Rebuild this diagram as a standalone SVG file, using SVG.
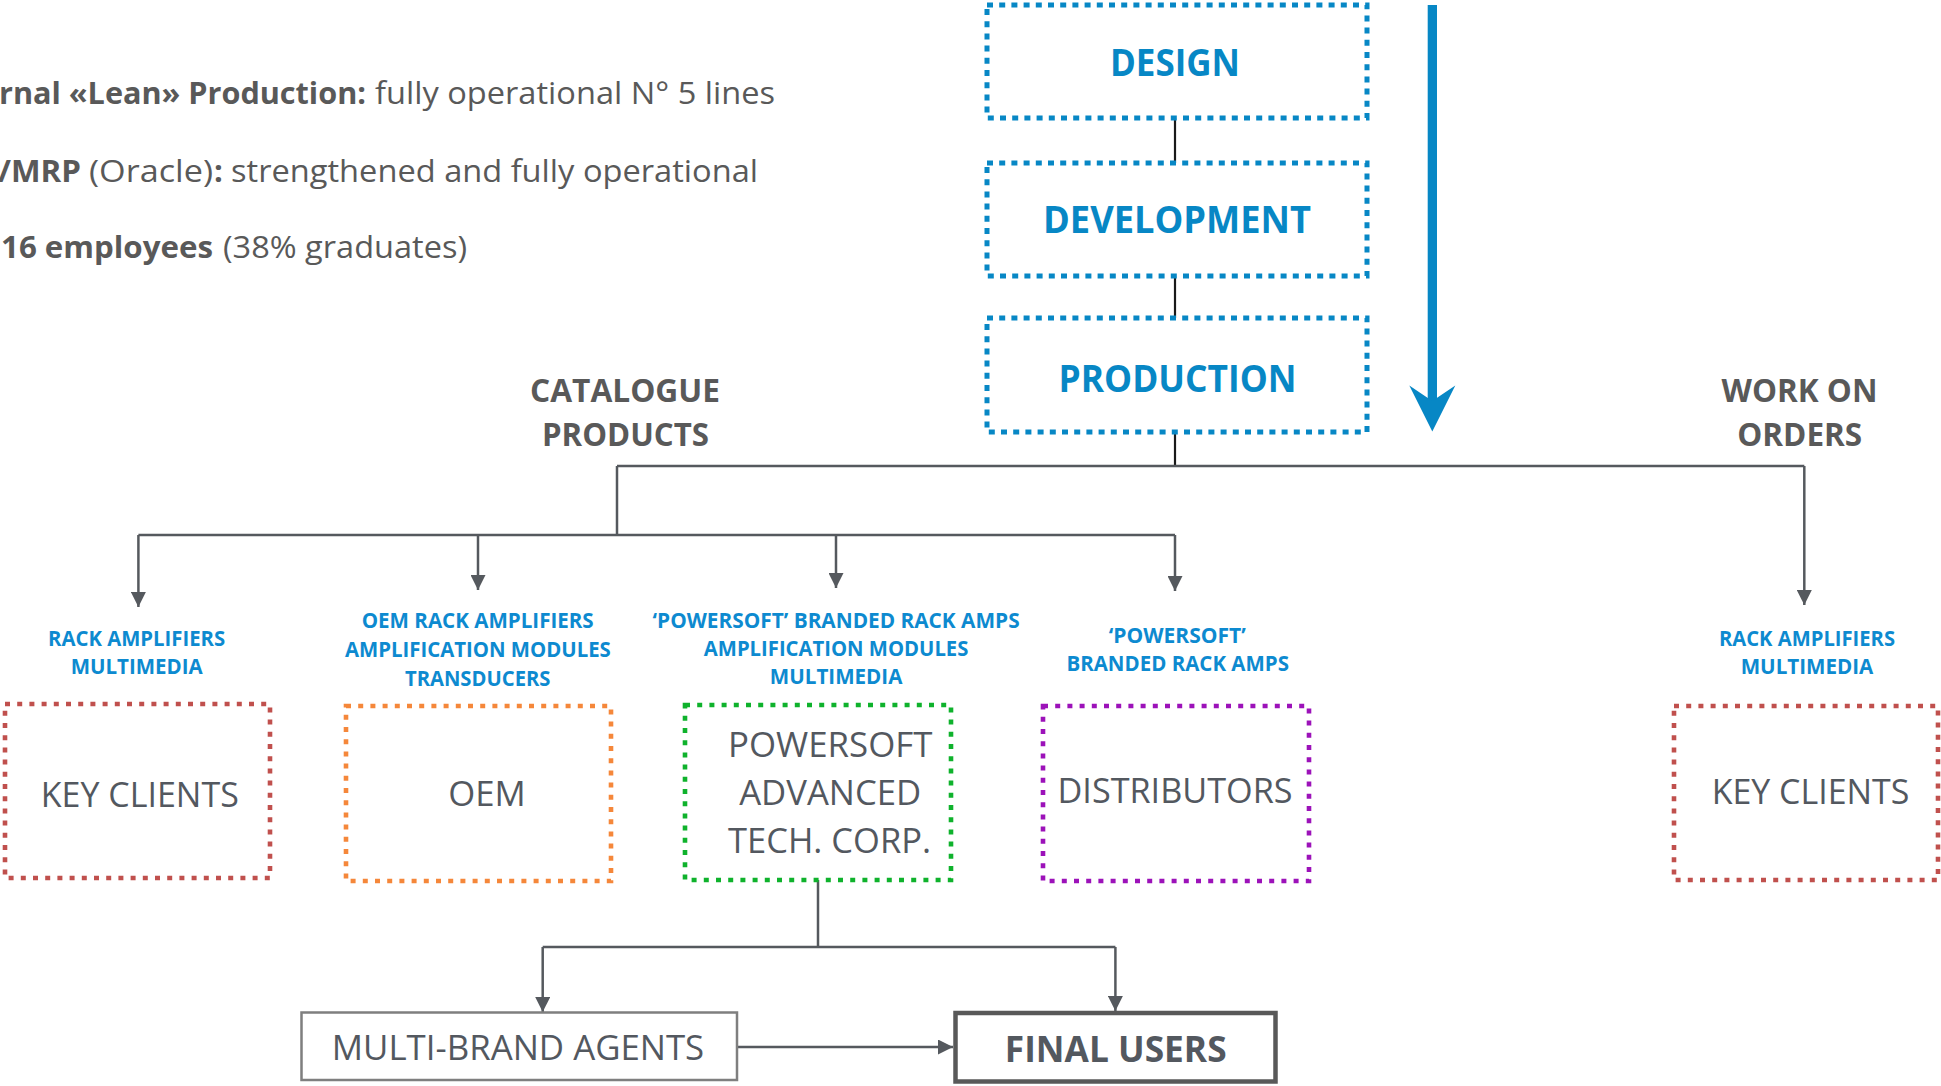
<svg xmlns="http://www.w3.org/2000/svg" width="1941" height="1086" viewBox="0 0 1941 1086">
  <style>
    text { font-family: "Open Sans", "Liberation Sans", sans-serif; }
    .intro { font-size: 31px; fill: #595959; }
    .b { font-weight: 700; }
    .stage { fill: none; stroke: #0787c5; stroke-width: 5; stroke-dasharray: 6 6.2; }
    .stage-t { font-size: 38px; font-weight: 700; fill: #0787c5; text-anchor: middle; }
    .branch { font-size: 32px; font-weight: 700; fill: #595959; text-anchor: middle; }
    .tag { font-size: 21px; font-weight: 700; fill: #0d8ad0; text-anchor: middle; }
    .chan { fill: none; stroke-width: 4.6; stroke-dasharray: 5 7.2; }
    .chan-t { font-size: 35px; fill: #53585f; text-anchor: middle; }
    .link { fill: none; stroke: #55595e; stroke-width: 2.5; }
    .tie { fill: none; stroke: #1a1a1a; stroke-width: 2.2; }
  </style>
  <defs>
    <marker id="tri" viewBox="0 0 15 15" refX="15" refY="7.5" markerWidth="15" markerHeight="15" markerUnits="userSpaceOnUse" orient="auto">
      <path d="M0,0 L15,7.5 L0,15 z" fill="#55595e"/>
    </marker>
  </defs>

  <!-- headline facts -->
  <g id="facts">
    <text class="intro b" x="-1" y="104" textLength="367" lengthAdjust="spacingAndGlyphs">rnal «Lean» Production:</text>
    <text class="intro" x="375" y="104" textLength="400" lengthAdjust="spacingAndGlyphs">fully operational N° 5 lines</text>
    <text class="intro b" x="-2" y="182" textLength="83" lengthAdjust="spacingAndGlyphs">/MRP</text>
    <text class="intro" x="89" y="182" textLength="124" lengthAdjust="spacingAndGlyphs">(Oracle)</text>
    <text class="intro b" x="214" y="182">:</text>
    <text class="intro" x="231" y="182" textLength="527" lengthAdjust="spacingAndGlyphs">strengthened and fully operational</text>
    <text class="intro b" x="1" y="258" textLength="212" lengthAdjust="spacingAndGlyphs">16 employees</text>
    <text class="intro" x="223" y="258" textLength="244" lengthAdjust="spacingAndGlyphs">(38% graduates)</text>
  </g>

  <!-- process flow arrow -->
  <g id="flow-arrow" fill="#0787c5">
    <rect x="1427.7" y="5" width="9.3" height="400"/>
    <polygon points="1409.3,385.5 1432.3,431.5 1455.3,385.5 1432.3,401"/>
  </g>

  <!-- connectors -->
  <g id="connectors">
    <path class="tie" d="M1175 118 V163"/>
    <path class="tie" d="M1175 276 V318"/>
    <path class="tie" d="M1175 432 V466"/>
    <path class="link" d="M617 466 H1804.3"/>
    <path class="link" d="M1804.3 466 V605" marker-end="url(#tri)"/>
    <path class="link" d="M617 466 V535"/>
    <path class="link" d="M138.4 535 H1175"/>
    <path class="link" d="M138.4 535 V607" marker-end="url(#tri)"/>
    <path class="link" d="M478 535 V590" marker-end="url(#tri)"/>
    <path class="link" d="M836 535 V588" marker-end="url(#tri)"/>
    <path class="link" d="M1175 535 V591" marker-end="url(#tri)"/>
    <path class="link" d="M818 880 V947"/>
    <path class="link" d="M542.7 947 H1115.4"/>
    <path class="link" d="M542.7 947 V1012" marker-end="url(#tri)"/>
    <path class="link" d="M1115.4 947 V1011" marker-end="url(#tri)"/>
    <path class="link" d="M737 1047 H953" marker-end="url(#tri)"/>
  </g>

  <!-- stages -->
  <g id="design">
    <rect class="stage" x="987" y="5" width="380" height="113"/>
    <text class="stage-t" x="1175" y="76" textLength="130" lengthAdjust="spacingAndGlyphs">DESIGN</text>
  </g>
  <g id="development">
    <rect class="stage" x="987" y="163" width="380" height="113"/>
    <text class="stage-t" x="1177" y="233" textLength="268" lengthAdjust="spacingAndGlyphs">DEVELOPMENT</text>
  </g>
  <g id="production">
    <rect class="stage" x="987" y="318" width="380" height="114"/>
    <text class="stage-t" x="1177.5" y="391.5" textLength="238" lengthAdjust="spacingAndGlyphs">PRODUCTION</text>
  </g>

  <!-- branch headings -->
  <g id="catalogue-products">
    <text class="branch" x="625" y="401.5" textLength="190" lengthAdjust="spacingAndGlyphs">CATALOGUE</text>
    <text class="branch" x="625.5" y="446" textLength="167" lengthAdjust="spacingAndGlyphs">PRODUCTS</text>
  </g>
  <g id="work-on-orders">
    <text class="branch" x="1799.5" y="402" textLength="156" lengthAdjust="spacingAndGlyphs">WORK ON</text>
    <text class="branch" x="1799.7" y="446" textLength="125" lengthAdjust="spacingAndGlyphs">ORDERS</text>
  </g>

  <!-- sales channels -->
  <g id="key-clients-catalogue">
    <text class="tag" x="136.6" y="646" textLength="177" lengthAdjust="spacingAndGlyphs">RACK AMPLIFIERS</text>
    <text class="tag" x="136.7" y="673.5" textLength="132" lengthAdjust="spacingAndGlyphs">MULTIMEDIA</text>
    <rect class="chan" stroke="#c0504d" x="5" y="704" width="265" height="174"/>
    <text class="chan-t" x="139.8" y="806.5" textLength="198" lengthAdjust="spacingAndGlyphs">KEY CLIENTS</text>
  </g>
  <g id="oem">
    <text class="tag" x="477.7" y="628.3" textLength="232" lengthAdjust="spacingAndGlyphs">OEM RACK AMPLIFIERS</text>
    <text class="tag" x="477.9" y="657.3" textLength="265.7" lengthAdjust="spacingAndGlyphs">AMPLIFICATION MODULES</text>
    <text class="tag" x="477.7" y="686" textLength="145.5" lengthAdjust="spacingAndGlyphs">TRANSDUCERS</text>
    <rect class="chan" stroke="#f5873a" x="346" y="706" width="265" height="175"/>
    <text class="chan-t" x="487" y="806" textLength="77.5" lengthAdjust="spacingAndGlyphs">OEM</text>
  </g>
  <g id="powersoft-corp">
    <text class="tag" x="836.1" y="627.7" textLength="367" lengthAdjust="spacingAndGlyphs">‘POWERSOFT’ BRANDED RACK AMPS</text>
    <text class="tag" x="836.1" y="656" textLength="264.6" lengthAdjust="spacingAndGlyphs">AMPLIFICATION MODULES</text>
    <text class="tag" x="836.1" y="684.3" textLength="132.5" lengthAdjust="spacingAndGlyphs">MULTIMEDIA</text>
    <rect class="chan" stroke="#0fb22c" x="685" y="705" width="266" height="175"/>
    <text class="chan-t" x="830.2" y="756.7" font-size="34" textLength="204.4" lengthAdjust="spacingAndGlyphs">POWERSOFT</text>
    <text class="chan-t" x="830.2" y="805" font-size="34" textLength="182" lengthAdjust="spacingAndGlyphs">ADVANCED</text>
    <text class="chan-t" x="829.5" y="853.3" font-size="34" textLength="203" lengthAdjust="spacingAndGlyphs">TECH. CORP.</text>
  </g>
  <g id="distributors">
    <text class="tag" x="1177.3" y="642.7" textLength="137" lengthAdjust="spacingAndGlyphs">‘POWERSOFT’</text>
    <text class="tag" x="1177.7" y="671" textLength="222.5" lengthAdjust="spacingAndGlyphs">BRANDED RACK AMPS</text>
    <rect class="chan" stroke="#9c12b9" x="1043" y="706" width="266" height="175"/>
    <text class="chan-t" x="1175" y="803.3" textLength="235" lengthAdjust="spacingAndGlyphs">DISTRIBUTORS</text>
  </g>
  <g id="key-clients-orders">
    <text class="tag" x="1807" y="645.8" textLength="176" lengthAdjust="spacingAndGlyphs">RACK AMPLIFIERS</text>
    <text class="tag" x="1807" y="674.4" textLength="132.7" lengthAdjust="spacingAndGlyphs">MULTIMEDIA</text>
    <rect class="chan" stroke="#c0504d" x="1674" y="706" width="264" height="174"/>
    <text class="chan-t" x="1810.5" y="804.3" textLength="197.7" lengthAdjust="spacingAndGlyphs">KEY CLIENTS</text>
  </g>

  <!-- end of the chain -->
  <g id="multi-brand-agents">
    <rect x="301.5" y="1012.5" width="435.5" height="67.5" fill="#fff" stroke="#7f7f7f" stroke-width="2.5"/>
    <text class="chan-t" x="518" y="1060" fill="#595959" textLength="372.4" lengthAdjust="spacingAndGlyphs">MULTI-BRAND AGENTS</text>
  </g>
  <g id="final-users">
    <rect x="955.5" y="1013" width="320" height="68.5" fill="#fff" stroke="#595959" stroke-width="4.5"/>
    <text class="chan-t b" x="1115.7" y="1061.7" fill="#595959" textLength="221.8" lengthAdjust="spacingAndGlyphs">FINAL USERS</text>
  </g>
</svg>
